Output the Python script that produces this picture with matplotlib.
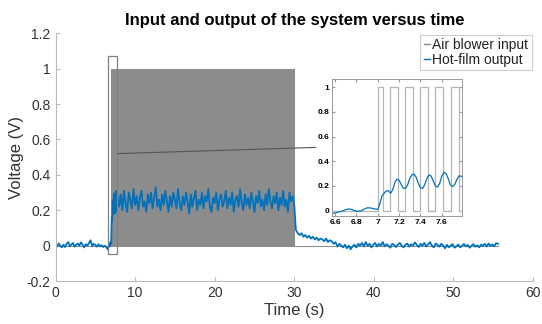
import numpy as np
import matplotlib
matplotlib.use('Agg')
import matplotlib.pyplot as plt
from matplotlib.patches import Rectangle, ConnectionPatch
from matplotlib.ticker import FuncFormatter

plt.rcParams['font.family'] = ['Liberation Sans', 'DejaVu Sans']

TITLE = "Input and output of the system versus time"
BLUE = '#0072BD'
GRAY_IN = '#8c8c8c'

# hot-film output
pre_values = [0.01, -0.005, 0.012, 0.0, -0.01, 0.005, -0.008, 0.01, 0.02, -0.004,
              0.006, 0.015, -0.006, 0.004, 0.012, 0.0, 0.018, 0.005, -0.01, 0.008,
              0.0, 0.014, 0.03, -0.002, 0.01, 0.004, -0.006, 0.008, -0.004, 0.002,
              -0.008, 0.0, -0.01]                         # 0.0 .. 6.4 s
start_values = [-0.02, -0.022, -0.02, -0.015, -0.01, -0.005, 0.0, 0.008, 0.012, 0.012,
                0.008, 0.0, -0.005, -0.005, -0.002, 0.005, 0.015, 0.022, 0.022, 0.02,
                0.015, 0.012, 0.01, 0.06, 0.12, 0.14, 0.16, 0.16, 0.14, 0.17,
                0.23, 0.255, 0.245, 0.21, 0.18, 0.18, 0.21, 0.26, 0.29, 0.295,
                0.27, 0.22, 0.185, 0.18, 0.21, 0.26, 0.29, 0.28, 0.24, 0.2,
                0.19, 0.22, 0.28, 0.31, 0.3, 0.26, 0.21, 0.195, 0.21, 0.25,
                0.28, 0.28, 0.27]                         # 6.56 .. 7.80 s
on_values = [0.22, 0.29, 0.2, 0.31, 0.24, 0.19, 0.3, 0.26, 0.21, 0.32, 0.23, 0.28, 0.2, 0.27, 0.31, 0.22, 0.25, 0.19, 0.29, 0.24,
             0.3, 0.21, 0.27, 0.33, 0.22, 0.26, 0.2, 0.29, 0.23, 0.31, 0.25, 0.19, 0.28, 0.22, 0.3, 0.26, 0.21, 0.32, 0.24, 0.2,
             0.28, 0.23, 0.3, 0.25, 0.18, 0.29, 0.22, 0.27, 0.31, 0.2, 0.26, 0.23, 0.3, 0.21, 0.28, 0.25, 0.32, 0.22, 0.19, 0.27,
             0.24, 0.3, 0.2, 0.26, 0.29, 0.22, 0.25, 0.31, 0.21, 0.27, 0.23, 0.3, 0.19, 0.26, 0.28, 0.22, 0.32, 0.24, 0.2, 0.29,
             0.23, 0.27, 0.21, 0.3, 0.25, 0.19, 0.28, 0.24, 0.31, 0.22, 0.26, 0.2, 0.29, 0.23, 0.32, 0.25, 0.21, 0.28, 0.24, 0.3,
             0.2, 0.27, 0.23, 0.31, 0.22, 0.26, 0.19, 0.3, 0.25, 0.28, 0.23]   # 8.0 .. 30.0 s
post_values = [0.09, 0.07, 0.06, 0.07, 0.05, 0.06, 0.045, 0.055, 0.04, 0.05, 0.035, 0.045, 0.03, 0.04, 0.035, 0.025, 0.04, 0.02, 0.03, 0.025,
               0.01, 0.02, -0.005, 0.01, 0.0, -0.01, 0.005, -0.015, 0.0, -0.02, -0.005, 0.005, -0.01, 0.01, 0.0, 0.015, -0.005, 0.02, 0.0, 0.01,
               -0.01, 0.005, 0.015, -0.005, 0.01, 0.0, 0.02, -0.004, 0.008, 0.0, -0.012, 0.01, 0.004, -0.008, 0.006, 0.015, 0.0, -0.01, 0.005, 0.012,
               -0.006, 0.008, 0.0, 0.018, 0.004, -0.008, 0.01, 0.0, 0.015, -0.005, 0.006, 0.02, 0.0, -0.01, 0.012, 0.004, -0.006, 0.01, 0.0, -0.015,
               0.005, -0.01, 0.0, 0.008, -0.012, -0.004, 0.006, -0.01, 0.0, 0.01, -0.005, 0.004, -0.012, 0.0, 0.008, -0.006, 0.002, -0.01, 0.005, 0.0,
               0.01, -0.005, 0.012, 0.0, 0.006, -0.004, 0.014, 0.01]   # 30.2 .. 55.6 s

t_out = np.concatenate([np.linspace(0.0, 6.4, len(pre_values)),
                        np.linspace(6.56, 7.80, len(start_values)),
                        np.linspace(8.0, 30.0, len(on_values)),
                        np.linspace(30.2, 55.6, len(post_values))])
v_out = np.concatenate([pre_values, start_values, on_values, post_values])

# air blower input: square wave
first_pulse = (7.0, 7.05)
pulse_start = 7.11
pulse_period = 0.1435
pulse_width = 0.075
pulse_end = 30.05
t_stop = 55.6

rises = [first_pulse[0]] + list(np.arange(pulse_start, pulse_end, pulse_period))
falls = [first_pulse[1]] + [r + pulse_width for r in rises[1:]]
t_in = [0.0]
v_in = [0.0]
for r, f in zip(rises, falls):
    t_in += [r, r, f, f]
    v_in += [0, 1, 1, 0]
t_in.append(t_stop)
v_in.append(0.0)

zoom_x = (6.57, 7.79)
zoom_y = (-0.045, 1.07)

fig = plt.figure(figsize=(5.42, 3.24), dpi=100)
ax = fig.add_axes([0.1024, 0.1327, 0.881, 0.7645])

ax.plot(t_in, v_in, color=GRAY_IN, lw=0.75, label='Air blower input')
ax.plot(t_out, v_out, color=BLUE, lw=1.3, label='Hot-film output')

ax.set_xlim(0, 60)
ax.set_ylim(-0.2, 1.2)
ax.set_xticks(np.arange(0, 61, 10))
ax.set_yticks(np.arange(-0.2, 1.21, 0.2))
fmt = FuncFormatter(lambda v, p: '%g' % round(v, 2))
ax.xaxis.set_major_formatter(fmt)
ax.yaxis.set_major_formatter(fmt)
for s in ['top', 'right']:
    ax.spines[s].set_visible(False)
for s in ['left', 'bottom']:
    ax.spines[s].set_color('#bbbbbb')
    ax.spines[s].set_linewidth(0.8)
ax.tick_params(direction='in', length=3, color='#bbbbbb', labelcolor='#333333', labelsize=10)
ax.set_xlabel('Time (s)', fontsize=12, color='#333333', labelpad=2)
ax.set_ylabel('Voltage (V)', fontsize=12, color='#333333', labelpad=2)
ax.set_title(TITLE, fontsize=12, fontweight='bold', color='black', pad=6)

leg = ax.legend(loc='upper right', fontsize=10, handlelength=0.45, handletextpad=0.15,
                labelspacing=0.05, borderpad=0.25, borderaxespad=0.1,
                fancybox=False, framealpha=1, edgecolor='#cccccc')
leg.get_frame().set_linewidth(0.8)
for txt in leg.get_texts():
    txt.set_color('#222222')
for h in leg.get_lines():
    h.set_linewidth(1.0)

ax.add_patch(Rectangle((zoom_x[0], zoom_y[0]), zoom_x[1] - zoom_x[0], zoom_y[1] - zoom_y[0],
                       fill=False, edgecolor='#808080', lw=0.9, zorder=5))

# zoomed inset
ins = fig.add_axes([0.6125, 0.333, 0.24, 0.424])
ins.plot(t_in, v_in, color='#b5b5b5', lw=0.9)
ins.plot(t_out, v_out, color=BLUE, lw=0.9)
ins.set_xlim(*zoom_x)
ins.set_ylim(*zoom_y)
ins.set_xticks([6.6, 6.8, 7.0, 7.2, 7.4, 7.6])
ins.set_yticks([0, 0.2, 0.4, 0.6, 0.8, 1.0])
ins.xaxis.set_major_formatter(fmt)
ins.yaxis.set_major_formatter(fmt)
ins.tick_params(direction='in', length=2, color='#999999', labelsize=6, pad=2,
                top=True, right=True)
for lab in ins.get_xticklabels() + ins.get_yticklabels():
    lab.set_fontweight('bold')
for s in ins.spines.values():
    s.set_color('#999999')
    s.set_linewidth(0.7)

con = ConnectionPatch(xyA=(zoom_x[1], 0.52), coordsA=ax.transData,
                      xyB=(-0.125, 0.5), coordsB=ins.transAxes,
                      color='#555555', lw=0.8)
fig.add_artist(con)

fig.savefig('out.png', dpi=100)
